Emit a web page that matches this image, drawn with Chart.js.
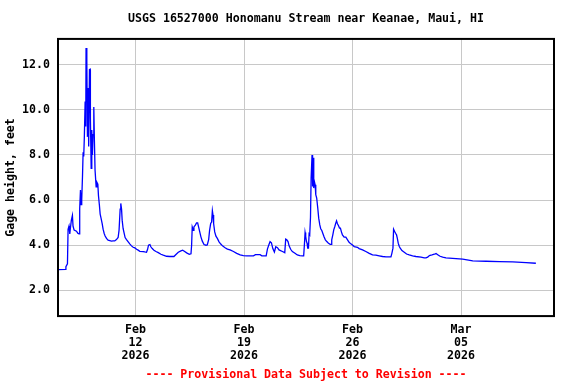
<!DOCTYPE html>
<html>
<head>
<meta charset="utf-8">
<script src="https://cdn.jsdelivr.net/npm/chart.js@4/dist/chart.umd.min.js"></script>
<style>
  body { margin: 0; background: #fff; }
</style>
</head>
<body>
<canvas id="gage" width="576" height="384"></canvas>
<script>
// Gage height readings, days since Feb 07 2026 00:00
const days = [
  0.00, 0.50, 0.51, 0.61, 0.65, 0.71, 0.76, 0.80, 0.86, 0.93, 0.97, 1.04, 1.19, 1.29, 1.36,
  1.40, 1.45, 1.49, 1.53, 1.58, 1.62, 1.66, 1.70, 1.75, 1.79, 1.81, 1.86, 1.90, 1.94, 1.98,
  2.03, 2.07, 2.09, 2.14, 2.18, 2.22, 2.26, 2.31, 2.35, 2.39, 2.46, 2.50, 2.57, 2.61, 2.67,
  2.72, 2.78, 2.85, 2.91, 2.98, 3.04, 3.13, 3.23, 3.34, 3.45, 3.56, 3.66, 3.77, 3.88, 3.94,
  4.01, 4.05, 4.10, 4.14, 4.20, 4.27, 4.33, 4.42, 4.53, 4.63, 4.74, 4.85, 4.96, 5.07, 5.17,
  5.28, 5.50, 5.60, 5.71, 5.78, 5.84, 5.93, 5.99, 6.08, 6.19, 6.32, 6.47, 6.64, 6.79, 7.00,
  7.22, 7.48, 7.61, 7.76, 7.93, 8.04, 8.15, 8.30, 8.47, 8.58,
  8.62, 8.66, 8.73, 8.77, 8.86, 8.94, 9.01, 9.07, 9.16, 9.22, 9.31, 9.42, 9.55, 9.63, 9.72,
  9.78, 9.85, 9.91, 9.96, 10.00, 10.04, 10.11, 10.19, 10.28, 10.39, 10.50, 10.63, 10.78, 10.93, 11.10,
  11.32, 11.53, 11.75, 11.96, 12.18, 12.39, 12.61, 12.74, 13.04, 13.15, 13.43, 13.51, 13.60, 13.68, 13.77,
  13.86, 13.96, 14.05, 14.16,
  14.26, 14.48, 14.63, 14.69, 14.76, 14.84, 14.91, 15.01, 15.12, 15.29, 15.44, 15.60, 15.77, 15.85, 15.90,
  15.94, 15.98, 16.03, 16.07, 16.11, 16.16, 16.20, 16.24, 16.29, 16.33, 16.35, 16.39, 16.41, 16.44, 16.46,
  16.50, 16.54, 16.59, 16.63, 16.69, 16.76, 16.82, 16.89, 16.95, 17.02, 17.10, 17.17, 17.25, 17.34, 17.45,
  17.56, 17.62, 17.66, 17.73, 17.79, 17.86, 17.92, 17.97, 18.03, 18.10, 18.16, 18.22, 18.29, 18.35, 18.46,
  18.57, 18.68, 18.78, 18.89, 19.00, 19.11, 19.32, 19.43, 19.65, 19.86, 20.08, 20.29, 20.51, 20.72, 20.94,
  21.16, 21.48, 21.54, 21.61, 21.65, 21.72, 21.78, 21.84, 21.89, 21.95, 22.02, 22.08, 22.19, 22.34, 22.49,
  22.66, 22.88, 23.09, 23.42, 23.63, 23.74, 23.85, 23.96, 24.13, 24.28, 24.39, 24.52, 24.65, 24.82, 25.03,
  25.46, 26.11, 26.76, 27.62, 28.48, 29.34, 30.20, 30.83
];
const gageFeet = [
  2.92, 2.93, 3.05, 3.18, 4.70, 4.85, 4.50, 4.75, 5.10, 5.32, 4.85, 4.67, 4.62, 4.52, 4.50,
  5.62, 6.45, 5.80, 6.00, 7.04, 8.12, 7.93, 8.80, 10.37, 9.26, 12.74, 12.15, 8.80, 10.96, 8.37,
  11.78, 11.80, 9.63, 7.41, 9.10, 8.00, 8.90, 10.12, 8.60, 7.33, 6.59, 6.80, 6.70, 6.20, 5.78,
  5.38, 5.19, 4.96, 4.71, 4.52, 4.41, 4.30, 4.22, 4.20, 4.18, 4.19, 4.19, 4.25, 4.34, 4.67,
  5.60, 5.85, 5.60, 5.11, 4.74, 4.52, 4.34, 4.25, 4.15, 4.06, 3.97, 3.91, 3.88, 3.82, 3.78,
  3.73, 3.72, 3.70, 3.69, 3.82, 4.00, 4.03, 3.93, 3.85, 3.78, 3.72, 3.67, 3.60, 3.56, 3.51,
  3.50, 3.50, 3.59, 3.69, 3.75, 3.78, 3.73, 3.66, 3.60, 3.62,
  4.00, 4.81, 4.66, 4.81, 4.89, 4.99, 4.99, 4.81, 4.55, 4.37, 4.18, 4.03, 4.00, 4.01, 4.25,
  4.66, 4.96, 5.03, 5.53, 5.34, 4.96, 4.59, 4.40, 4.30, 4.15, 4.05, 3.96, 3.89, 3.83, 3.79,
  3.72, 3.64, 3.57, 3.54, 3.53, 3.53, 3.53, 3.58, 3.58, 3.53, 3.53, 3.83, 4.01, 4.16, 4.10,
  3.85, 3.70, 3.93, 3.89,
  3.79, 3.72, 3.67, 4.27, 4.24, 4.16, 3.97, 3.82, 3.72, 3.64, 3.57, 3.54, 3.53, 3.53, 4.06,
  4.56, 4.39, 4.16, 4.09, 3.87, 3.87, 4.50, 4.46, 5.24, 6.98, 6.98, 8.00, 7.97, 6.60, 7.87,
  6.53, 6.83, 6.68, 6.24, 6.09, 5.64, 5.20, 4.90, 4.73, 4.65, 4.50, 4.36, 4.24, 4.16, 4.09,
  4.04, 4.04, 4.24, 4.46, 4.68, 4.83, 4.98, 5.08, 4.95, 4.86, 4.76, 4.76, 4.58, 4.46, 4.36,
  4.36, 4.24, 4.13, 4.06, 4.01, 3.94, 3.91, 3.85, 3.79, 3.72, 3.64, 3.57, 3.56, 3.53, 3.50,
  3.48, 3.48, 3.64, 3.87, 4.71, 4.61, 4.53, 4.46, 4.31, 4.09, 3.94, 3.87, 3.76, 3.69, 3.61,
  3.57, 3.53, 3.50, 3.47, 3.44, 3.44, 3.47, 3.54, 3.57, 3.60, 3.63, 3.57, 3.51, 3.47, 3.44,
  3.42, 3.38, 3.31, 3.29, 3.27, 3.26, 3.23, 3.20
];

// Axis ticks
const xTickDays = [5, 12, 19, 26];
const xTickLabels = [
  ['Feb', '12', '2026'],
  ['Feb', '19', '2026'],
  ['Feb', '26', '2026'],
  ['Mar', '05', '2026']
];
const yTickValues = [2, 4, 6, 8, 10, 12];

const mono = 'DejaVu Sans Mono';
const txt = { family: mono, size: 11.6, weight: 'bold', lineHeight: 1.12 };

// Black frame round the plot area
const frame = {
  id: 'frame',
  afterDraw(chart) {
    const { ctx, chartArea: a } = chart;
    ctx.save();
    ctx.strokeStyle = '#000';
    ctx.lineWidth = 2;
    ctx.strokeRect(a.left, a.top, a.right - a.left, a.bottom - a.top);
    ctx.restore();
  }
};

new Chart(document.getElementById('gage'), {
  type: 'line',
  data: {
    datasets: [{
      data: days.map((d, i) => ({ x: d, y: gageFeet[i] })),
      borderColor: '#0000ff',
      borderWidth: 1.3,
      pointRadius: 0,
      tension: 0,
      fill: false
    }]
  },
  options: {
    responsive: false,
    animation: false,
    layout: { padding: { left: 0, right: 22, top: 0, bottom: 0 } },
    plugins: {
      legend: { display: false },
      tooltip: { enabled: false },
      title: {
        display: true,
        fullSize: false,
        text: 'USGS 16527000 Honomanu Stream near Keanae, Maui, HI',
        color: '#000',
        font: { family: mono, size: 11.6, weight: 'bold', lineHeight: 1.2 },
        padding: { top: 12, bottom: 13 }
      },
      subtitle: {
        display: true,
        fullSize: false,
        position: 'bottom',
        text: '---- Provisional Data Subject to Revision ----',
        color: '#ff0000',
        font: { family: mono, size: 11.6, weight: 'bold', lineHeight: 1.2 },
        padding: { top: 0, bottom: 2 }
      }
    },
    scales: {
      x: {
        type: 'linear',
        min: 0,
        max: 32,
        afterBuildTicks: s => { s.ticks = xTickDays.map(v => ({ value: v })); },
        afterFit: s => { s.height = 52; },
        ticks: {
          color: '#000',
          font: txt,
          padding: 7,
          maxRotation: 0,
          callback: (v) => xTickLabels[xTickDays.indexOf(v)]
        },
        grid: { color: '#c8c8c8', lineWidth: 1, drawTicks: false },
        border: { display: false }
      },
      y: {
        min: 0.86,
        max: 13.14,
        afterBuildTicks: s => { s.ticks = yTickValues.map(v => ({ value: v })); },
        afterFit: s => { s.width = 58; },
        ticks: {
          color: '#000',
          font: txt,
          padding: 8,
          callback: v => v.toFixed(1)
        },
        grid: { color: '#c8c8c8', lineWidth: 1, drawTicks: false },
        border: { display: false },
        title: {
          display: true,
          text: 'Gage height, feet',
          color: '#000',
          font: { family: mono, size: 11.6, weight: 'bold', lineHeight: 1.2 },
          padding: { top: 4, bottom: 0 }
        }
      }
    }
  },
  plugins: [frame]
});
</script>
</body>
</html>
